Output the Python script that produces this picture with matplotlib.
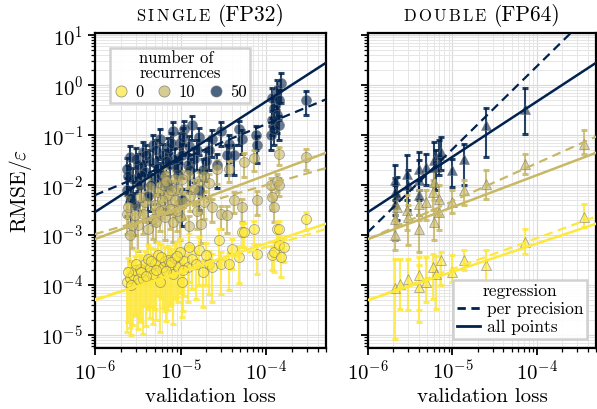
import numpy as np
import matplotlib
matplotlib.use("Agg")
import matplotlib.pyplot as plt
from matplotlib.lines import Line2D
from matplotlib.offsetbox import TextArea, HPacker, AnchoredOffsetbox

plt.rcParams.update({
    "font.family": "serif",
    "font.serif": ["cmr10"],
    "mathtext.fontset": "cm",
    "axes.formatter.use_mathtext": True,
    "axes.unicode_minus": False,
})

recurrences = [0, 10, 50]

# single precision (FP32): validation loss in units of 1e-6, RMSE/eps, relative std
single_x0 = [2.36, 2.55, 2.77, 2.92, 3.16, 3.34, 3.61, 3.81, 4.13, 4.36, 4.72, 4.99, 5.4, 5.7,
             6.18, 6.51, 7.06, 7.45, 8.07, 8.51, 9.23, 9.73, 10.3, 11.1, 12.1, 12.7, 13.8, 16.6,
             18.5, 21.7, 23.5, 28.4, 30.0, 37.2, 40.3, 48.6, 52.6, 55.5, 72, 78.6, 117, 124,
             134, 142, 142, 149, 162, 292,
             2.45, 2.65, 3.0, 3.5, 4.0, 4.5, 5.2, 5.9, 6.8, 7.8, 9.0, 10.8, 15, 20]
single_y0 = [1.15e-4, 1.4e-4, 1.6e-4, 2.0e-4, 1.3e-4, 2.1e-4, 1.3e-4, 2.6e-4, 3.3e-4, 2.2e-4,
             1.7e-4, 2.8e-4, 4.0e-4, 1.15e-4, 2.3e-4, 3.0e-4, 3.2e-4, 2.5e-4, 1.7e-4, 3.5e-4,
             2.3e-4, 4.6e-4, 1.15e-4, 3.0e-4, 2.3e-4, 5.8e-4, 3.3e-4, 5.0e-4, 1.8e-4, 2.7e-4,
             2.3e-4, 7.9e-4, 2.6e-4, 2.6e-4, 5.2e-4, 3.6e-4, 1.15e-3, 1.15e-3, 1.3e-3, 4.2e-4,
             4.0e-4, 4.6e-4, 1.3e-3, 6.3e-4, 1.3e-3, 3.6e-4, 5.7e-4, 2.1e-3,
             1.8e-4, 1.0e-4, 2.6e-4, 1.8e-4, 1.5e-4, 3.0e-4, 2.0e-4, 3.6e-4, 1.9e-4, 2.9e-4,
             3.9e-4, 2.0e-4, 2.6e-4, 4.0e-4]
single_r0 = [0.9, 0.9, 0.9, 0.88, 0.9, 0.9, 0.92, 0.85, 0.9, 0.9, 0.9, 0.88, 0.85, 0.9, 0.85,
             0.9, 0.9, 0.85, 0.9, 0.85, 0.8, 0.85, 0.8, 0.8, 0.8, 0.8, 0.75, 0.8, 0.8, 0.75,
             0.8, 0.7, 0.75, 0.7, 0.6, 0.7, 0.5, 0.5, 0.5, 0.6, 0.5, 0.6, 0.4, 0.5, 0.45,
             0.6, 0.5, 0.4,
             0.9, 0.9, 0.9, 0.9, 0.9, 0.88, 0.9, 0.85, 0.9, 0.85, 0.85, 0.85, 0.8, 0.75]

single_x10 = [2.36, 2.55, 2.92, 3.16, 3.81, 4.13, 4.72, 4.99, 5.4, 5.7, 6.18, 6.51, 6.51, 7.06,
              7.45, 8.07, 8.51, 8.51, 9.23, 9.73, 11.1, 12.1, 12.7, 14.5, 16.6, 17.5, 19.0, 19.0,
              21.7, 23.5, 26.9, 30.0, 35.2, 37.2, 42.5, 52.6, 55.5, 72, 78.6, 114, 117, 124,
              134, 142, 142, 292,
              2.45, 2.7, 3.4, 3.6, 4.4, 5.2, 6.0, 6.8, 7.8, 9.0, 10.5, 13, 15.5]
single_y10 = [2.6e-3, 1.0e-3, 2.5e-3, 1.6e-3, 4.6e-3, 1.3e-3, 2.1e-3, 4.0e-3, 7.2e-3, 3.0e-3,
              1.0e-2, 2.3e-3, 1.5e-2, 6.3e-3, 3.3e-3, 1.8e-3, 5.0e-3, 1.3e-2, 8.3e-3, 2.3e-3,
              4.6e-3, 1.6e-2, 1.5e-3, 8.3e-3, 1.2e-2, 1.7e-3, 4.6e-3, 1.5e-2, 1.1e-2, 3.6e-3,
              2.1e-2, 2.6e-3, 2.5e-3, 2.1e-2, 5.0e-3, 3.6e-3, 2.9e-2, 3.5e-2, 5.0e-3, 1.0e-2,
              5.8e-3, 3.6e-3, 1.2e-2, 4.2e-2, 1.0e-2, 3.6e-2,
              3.6e-3, 1.6e-3, 5.8e-3, 2.6e-3, 9.0e-3, 1.8e-3, 5.0e-3, 1.2e-2, 8.0e-3, 3.0e-3,
              1.3e-2, 6.0e-3, 3.0e-3]
single_r10 = [0.6, 0.7, 0.6, 0.7, 0.6, 0.7, 0.6, 0.6, 0.55, 0.6, 0.5, 0.65, 0.5, 0.55, 0.6,
              0.6, 0.55, 0.5, 0.5, 0.65, 0.55, 0.45, 0.6, 0.5, 0.5, 0.6, 0.55, 0.5, 0.5, 0.5,
              0.5, 0.5, 0.55, 0.45, 0.45, 0.5, 0.5, 0.45, 0.5, 0.4, 0.45, 0.5, 0.4, 0.4, 0.4,
              0.45,
              0.6, 0.65, 0.55, 0.6, 0.5, 0.6, 0.55, 0.5, 0.5, 0.6, 0.5, 0.5, 0.55]

single_x50 = [2.36, 2.36, 2.55, 2.77, 2.92, 3.16, 3.34, 3.61, 3.81, 4.13, 4.36, 4.72, 4.99, 5.4,
              5.7, 6.18, 6.51, 7.06, 7.06, 7.45, 8.07, 8.51, 9.23, 9.73, 10.3, 10.3, 11.1, 12.1,
              12.7, 13.8, 14.5, 16.6, 16.6, 18.5, 21.7, 23.5, 26.9, 30.0, 35.2, 37.2, 42.5, 48.6,
              52.6, 76.5, 78.6, 114, 117, 117, 124, 124, 134, 134, 142, 142, 149, 292,
              2.45, 2.65, 3.0, 3.5, 4.0, 4.5, 5.2, 5.9, 6.8, 7.8, 9.0, 10.8, 13, 15.5, 20]
single_y50 = [2.1e-2, 8.0e-3, 3.6e-2, 1.3e-2, 4.0e-3, 2.5e-2, 1.0e-2, 4.6e-2, 1.8e-2, 6.0e-3,
              3.0e-2, 6.3e-2, 1.4e-2, 2.2e-2, 8.3e-2, 4.0e-2, 1.1e-2, 5.5e-2, 9.0e-3, 2.6e-2,
              1.2e-1, 3.3e-2, 1.6e-2, 7.0e-2, 4.0e-2, 5.0e-3, 1.3e-1, 2.5e-2, 6.0e-2, 1.6e-1,
              3.3e-2, 9.0e-2, 8.0e-3, 2.0e-2, 5.0e-2, 8.3e-2, 2.5e-2, 1.2e-1, 4.0e-2, 6.6e-2,
              4.0e-2, 1.3e-1, 8.3e-2, 1.0e-1, 6.3e-2, 1.0e-1, 2.0e-1, 5.5e-1, 3.5e-1, 1.3e-1,
              8.0e-1, 2.5e-1, 5.0e-1, 1.6e-1, 1.1, 5.0e-1,
              1.5e-2, 5.5e-3, 3.3e-2, 1.6e-2, 4.0e-2, 1.0e-2, 5.0e-2, 1.6e-2, 3.0e-2, 7.0e-2,
              2.2e-2, 9.0e-2, 2.0e-2, 5.0e-2, 3.0e-2]
single_r50 = [0.7, 0.7, 0.65, 0.7, 0.75, 0.7, 0.7, 0.6, 0.7, 0.7, 0.65, 0.6, 0.7, 0.7, 0.6,
              0.65, 0.7, 0.6, 0.7, 0.7, 0.55, 0.65, 0.7, 0.6, 0.65, 0.7, 0.5, 0.7, 0.6, 0.5,
              0.65, 0.55, 0.6, 0.7, 0.6, 0.55, 0.65, 0.5, 0.6, 0.55, 0.6, 0.5, 0.5, 0.5, 0.55,
              0.5, 0.5, 0.6, 0.6, 0.5, 0.6, 0.55, 0.6, 0.5, 0.6, 0.5,
              0.7, 0.7, 0.65, 0.7, 0.6, 0.7, 0.6, 0.7, 0.65, 0.6, 0.65, 0.55, 0.65, 0.6, 0.6]

# double precision (FP64): validation loss in units of 1e-6, RMSE/eps, lower and upper bounds
double_x0 = [2.07, 2.37, 2.94, 4.06, 4.06, 4.9, 5.91, 6.41, 7.33, 9.86, 13.6, 24.7, 72.4, 364]
double_y0 = [8.7e-5, 1.05e-4, 1.32e-4, 1.6e-4, 9.1e-5, 1.15e-4, 2.3e-4, 1.66e-4, 3.2e-4,
             1.8e-4, 3.2e-4, 2.5e-4, 7.2e-4, 2.3e-3]
double_lo0 = [8.3e-6, 3.3e-5, 3.2e-5, 1.8e-5, 3.2e-5, 4.6e-5, 5.2e-5, 3.3e-5, 1.0e-4,
              1.15e-4, 2.0e-4, 1.15e-4, 4.2e-4, 1.45e-3]
double_hi0 = [3.3e-4, 3.3e-4, 3.3e-4, 3.6e-4, 2.5e-4, 3.6e-4, 4.2e-4, 3.8e-4, 4.6e-4,
              4.0e-4, 5.0e-4, 5.0e-4, 1.3e-3, 4.2e-3]

double_x10 = [2.07, 2.07, 2.18, 2.86, 2.94, 4.06, 4.06, 4.9, 5.91, 6.08, 6.08, 6.95, 6.95,
              9.86, 13.6, 24.7, 72.4, 364]
double_y10 = [2.1e-3, 1.0e-3, 3.6e-3, 3.2e-3, 2.3e-3, 4.2e-3, 1.3e-3, 4.6e-3, 7.2e-3, 1.15e-2,
              1.8e-3, 5.2e-3, 2.9e-3, 4.6e-3, 7.9e-3, 1.05e-2, 2.6e-2, 6.6e-2]
double_lo10 = [7.9e-4, 5.0e-4, 1.6e-3, 1.26e-3, 6.3e-4, 2.0e-3, 4.6e-4, 2.0e-3, 3.2e-3, 5.0e-3,
               7.9e-4, 2.5e-3, 1.26e-3, 2.75e-3, 4.0e-3, 5.2e-3, 1.66e-2, 4.2e-2]
double_hi10 = [4.0e-3, 2.0e-3, 6.3e-3, 6.3e-3, 4.0e-3, 7.9e-3, 2.5e-3, 7.9e-3, 1.26e-2, 2.0e-2,
               3.2e-3, 1.0e-2, 5.0e-3, 7.9e-3, 1.26e-2, 2.0e-2, 4.2e-2, 1.26e-1]

double_x50 = [2.07, 2.07, 2.07, 2.18, 2.86, 2.94, 4.06, 4.06, 4.06, 4.9, 6.08, 6.41, 6.95,
              7.33, 9.86, 13.6, 24.7, 72.4]
double_y50 = [1.26e-2, 7.2e-3, 4.2e-3, 6.3e-3, 1.66e-2, 1.0e-2, 2.1e-2, 1.26e-2, 6.3e-3,
              2.3e-2, 3.2e-2, 2.3e-2, 4.0e-2, 4.6e-2, 2.0e-2, 3.3e-2, 1.58e-1, 3.3e-1]
double_lo50 = [5.0e-3, 2.5e-3, 7.9e-4, 2.0e-3, 5.0e-3, 3.2e-3, 7.9e-3, 5.0e-3, 2.5e-3,
               1.0e-2, 1.0e-2, 7.9e-3, 1.6e-2, 2.0e-2, 9.1e-3, 1.0e-2, 3.6e-2, 1.05e-1]
double_hi50 = [2.5e-2, 1.4e-2, 1.0e-2, 1.45e-2, 4.0e-2, 2.0e-2, 4.6e-2, 3.2e-2, 1.26e-2,
               4.2e-2, 7.2e-2, 5.0e-2, 7.9e-2, 9.1e-2, 3.3e-2, 6.6e-2, 3.5e-1, 8.7e-1]

# regressions in log-log space: log10(RMSE/eps) at loss 1e-6 and slope
fit_all_icpt = [-4.30, -3.08, -2.54]
fit_all_slope = [0.566, 0.64, 1.107]
fit_single_icpt = [-4.28, -2.98, -2.20]
fit_single_slope = [0.52, 0.49, 0.71]
fit_double_icpt = [-4.30, -3.08, -2.94]
fit_double_slope = [0.62, 0.76, 1.66]

cmap = plt.cm.cividis_r
colors = {n: cmap(n / 50) for n in recurrences}

fig = plt.figure(figsize=(5.97, 4.09), dpi=100)
ax1 = fig.add_axes([0.159, 0.149, 0.387, 0.770])
ax2 = fig.add_axes([0.6164, 0.149, 0.382, 0.770], sharey=ax1)

single = {0: (single_x0, single_y0, single_r0),
          10: (single_x10, single_y10, single_r10),
          50: (single_x50, single_y50, single_r50)}
double = {0: (double_x0, double_y0, double_lo0, double_hi0),
          10: (double_x10, double_y10, double_lo10, double_hi10),
          50: (double_x50, double_y50, double_lo50, double_hi50)}


def draw_points(ax, x, y, yerr, color, marker, ms):
    ax.errorbar(x, y, yerr=yerr, fmt="none", ecolor=color, elinewidth=1.5,
                capsize=2.5, capthick=2.2, alpha=0.85, zorder=2)
    ax.plot(x, y, ls="", marker=marker, ms=ms, mfc=color, mec="#707070",
            mew=0.6, alpha=0.6, zorder=3)


for n in [50, 10, 0]:
    x, y, r = single[n]
    x = np.array(x) * 1e-6
    y = np.array(y)
    draw_points(ax1, x, y, np.array(r) * y, colors[n], "o", 7.2)

    x, y, lo, hi = double[n]
    x = np.array(x) * 1e-6
    y = np.array(y)
    draw_points(ax2, x, y, [y - np.array(lo), np.array(hi) - y], colors[n], "^", 7.5)

xfit = np.logspace(-6, np.log10(5e-4), 50)
dec = np.log10(xfit) + 6
for i, n in enumerate(recurrences):
    for ax in (ax1, ax2):
        ax.plot(xfit, 10 ** (fit_all_icpt[i] + fit_all_slope[i] * dec),
                color=colors[n], lw=1.8, zorder=4)
    ax1.plot(xfit, 10 ** (fit_single_icpt[i] + fit_single_slope[i] * dec),
             color=colors[n], lw=1.6, ls=(0, (4, 2.5)), zorder=4)
    ax2.plot(xfit, 10 ** (fit_double_icpt[i] + fit_double_slope[i] * dec),
             color=colors[n], lw=1.6, ls=(0, (4, 2.5)), zorder=4)

for ax in (ax1, ax2):
    ax.set_xscale("log")
    ax.set_yscale("log")
    ax.set_xlim(1e-6, 5e-4)
    ax.set_ylim(5.5e-6, 11)
    ax.grid(which="major", color="#d9d9d9", lw=0.8)
    ax.grid(which="minor", color="#e6e6e6", lw=0.7)
    ax.set_axisbelow(True)
    for s in ax.spines.values():
        s.set_linewidth(1.6)
    ax.tick_params(which="major", direction="out", length=5, width=1.3, labelsize=15)
    ax.tick_params(which="minor", direction="out", length=3, width=0.9)
    ax.set_xlabel("validation loss", fontsize=15, labelpad=3)
ax1.set_ylabel(r"RMSE/$\varepsilon$", fontsize=15.5, labelpad=5)
ax2.tick_params(labelleft=False)


def smallcaps_title(ax, word, rest):
    letters = [TextArea(c, textprops=dict(size=12)) for c in word]
    word_box = HPacker(children=letters, align="baseline", pad=0, sep=1.6)
    box = HPacker(children=[word_box, TextArea(rest, textprops=dict(size=15.5))],
                  align="baseline", pad=0, sep=5.5)
    ab = AnchoredOffsetbox(loc="lower center", child=box, pad=0, borderpad=0,
                           frameon=False, bbox_to_anchor=(0.5, 1.02),
                           bbox_transform=ax.transAxes)
    ax.add_artist(ab)


smallcaps_title(ax1, "SINGLE", "(FP32)")
smallcaps_title(ax2, "DOUBLE", "(FP64)")

handles = [Line2D([], [], ls="", marker="o", ms=8, mfc=colors[n], mec="#707070",
                  mew=0.6, alpha=0.7) for n in recurrences]
leg1 = ax1.legend(handles, [str(n) for n in recurrences], title="number of\nrecurrences",
                  ncol=3, loc="upper left", bbox_to_anchor=(0.03, 0.98),
                  handletextpad=0.4, columnspacing=0.8, handlelength=0.9,
                  borderpad=0.2, labelspacing=0.2, fontsize=12, title_fontsize=12,
                  fancybox=False, edgecolor="#cccccc", framealpha=0.9)
leg1.get_title().set_linespacing(0.95)
leg1.get_frame().set_linewidth(1.8)

navy = colors[50]
handles2 = [Line2D([], [], color=navy, ls=(0, (3, 2)), lw=2),
            Line2D([], [], color=navy, ls="-", lw=2)]
leg2 = ax2.legend(handles2, ["per precision", "all points"], title="regression",
                  loc="lower right", bbox_to_anchor=(1.0, 0.0), handlelength=1.3,
                  handletextpad=0.4, borderpad=0.25, labelspacing=0.15,
                  fontsize=12.5, title_fontsize=12.5, fancybox=False,
                  edgecolor="#cccccc", framealpha=0.9)
leg2.get_frame().set_linewidth(1.8)

fig.savefig("out.png", dpi=100)
